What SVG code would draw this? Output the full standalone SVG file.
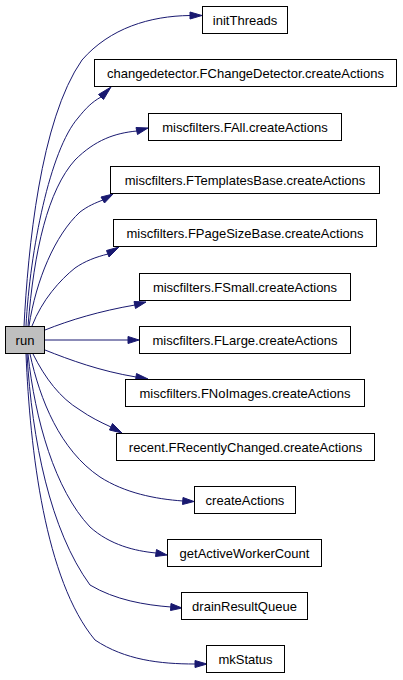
<svg xmlns="http://www.w3.org/2000/svg" width="403" height="680" viewBox="0 0 403 680">
<style>
.box{fill:#ffffff;stroke:#000000;stroke-width:1}
.root{fill:#bfbfbf;stroke:#000000;stroke-width:1}
.lbl{font-family:"Liberation Sans",Arial,sans-serif;font-size:13px;fill:#000000;text-anchor:middle}
.edge{fill:none;stroke:#191970;stroke-width:1}
.ah{fill:#191970;stroke:#191970;stroke-width:1}
</style>
<rect x="0" y="0" width="403" height="680" fill="#ffffff"/>
<g id="connectors">
<path class="edge" d="M24,326 C28,250 40,120 82,60 C110,28 150,16 190,15.5"/>
<polygon class="ah" points="190,12 202,15.5 190,19"/>
<path class="edge" d="M26,326 C30,250 50,150 78,118 C86,108 92,102 101,97"/>
<polygon class="ah" points="98.5,94.5 111,87 103.5,99.5"/>
<path class="edge" d="M28,326 C34,250 48,190 75,160 C95,140 115,133 137,131"/>
<polygon class="ah" points="136,127.5 148,128 137.5,134.5"/>
<path class="edge" d="M29,326 C36,280 55,235 80,212 C88,206 95,203 103,200"/>
<polygon class="ah" points="101,197 113,194 104.5,203"/>
<path class="edge" d="M32,326 C42,300 60,280 75,268 C85,261 96,257 108,254"/>
<polygon class="ah" points="106.5,250.5 119,247 109,257"/>
<path class="edge" d="M45,330 C70,320 100,311 135,305"/>
<polygon class="ah" points="134,301.5 146,302 135.5,308.5"/>
<path class="edge" d="M45,340 L128,340"/>
<polygon class="ah" points="128,336.5 139,340 128,343.5"/>
<path class="edge" d="M45,350 C70,360 100,371 136,377"/>
<polygon class="ah" points="136.5,373.5 148,379 135.5,380.5"/>
<path class="edge" d="M33,354 C45,378 60,398 80,410 C90,417 100,422 111,427"/>
<polygon class="ah" points="112.5,423.5 122,433 109.5,430"/>
<path class="edge" d="M30,354 C40,400 60,450 100,477 C125,493 155,499 183,501"/>
<polygon class="ah" points="183,497.5 194,501.5 182.5,504.5"/>
<path class="edge" d="M28,354 C35,420 55,490 90,527 C110,545 135,551 156,553"/>
<polygon class="ah" points="156.5,549.5 167,555 155.5,556.5"/>
<path class="edge" d="M27,354 C32,440 50,530 90,585 C115,600 145,605 171,607"/>
<polygon class="ah" points="171,603.5 182,608 170.5,610.5"/>
<path class="edge" d="M26,354 C30,450 45,580 95,640 C125,660 160,664 195,664"/>
<polygon class="ah" points="195,660.5 207,664 195,667.5"/>
</g>
<g id="run"><rect class="root" x="5.5" y="326.5" width="39" height="27"/><text class="lbl" x="25" y="344.5">run</text></g>
<g id="initThreads"><rect class="box" x="202.5" y="6.5" width="85" height="27"/><text class="lbl" x="245" y="24.5">initThreads</text></g>
<g id="changedetector"><rect class="box" x="94.5" y="59.5" width="302" height="27"/><text class="lbl" x="245.5" y="77.5">changedetector.FChangeDetector.createActions</text></g>
<g id="FAll"><rect class="box" x="148.5" y="113.5" width="193" height="27"/><text class="lbl" x="245" y="131.5">miscfilters.FAll.createActions</text></g>
<g id="FTemplatesBase"><rect class="box" x="110.5" y="166.5" width="269" height="27"/><text class="lbl" x="245" y="184.5">miscfilters.FTemplatesBase.createActions</text></g>
<g id="FPageSizeBase"><rect class="box" x="113.5" y="219.5" width="263" height="27"/><text class="lbl" x="245" y="237.5">miscfilters.FPageSizeBase.createActions</text></g>
<g id="FSmall"><rect class="box" x="139.5" y="273.5" width="211" height="27"/><text class="lbl" x="245" y="291.5">miscfilters.FSmall.createActions</text></g>
<g id="FLarge"><rect class="box" x="139.5" y="326.5" width="211" height="27"/><text class="lbl" x="245" y="344.5">miscfilters.FLarge.createActions</text></g>
<g id="FNoImages"><rect class="box" x="125.5" y="379.5" width="239" height="27"/><text class="lbl" x="245" y="397.5">miscfilters.FNoImages.createActions</text></g>
<g id="FRecentlyChanged"><rect class="box" x="116.5" y="433.5" width="258" height="27"/><text class="lbl" x="245.5" y="451.5">recent.FRecentlyChanged.createActions</text></g>
<g id="createActions"><rect class="box" x="194.5" y="486.5" width="101" height="27"/><text class="lbl" x="245" y="504.5">createActions</text></g>
<g id="getActiveWorkerCount"><rect class="box" x="167.5" y="539.5" width="154" height="27"/><text class="lbl" x="244.5" y="557.5">getActiveWorkerCount</text></g>
<g id="drainResultQueue"><rect class="box" x="181.5" y="592.5" width="126" height="27"/><text class="lbl" x="244.5" y="610.5">drainResultQueue</text></g>
<g id="mkStatus"><rect class="box" x="206.5" y="645.5" width="78" height="27"/><text class="lbl" x="245.5" y="663.5">mkStatus</text></g>
</svg>
